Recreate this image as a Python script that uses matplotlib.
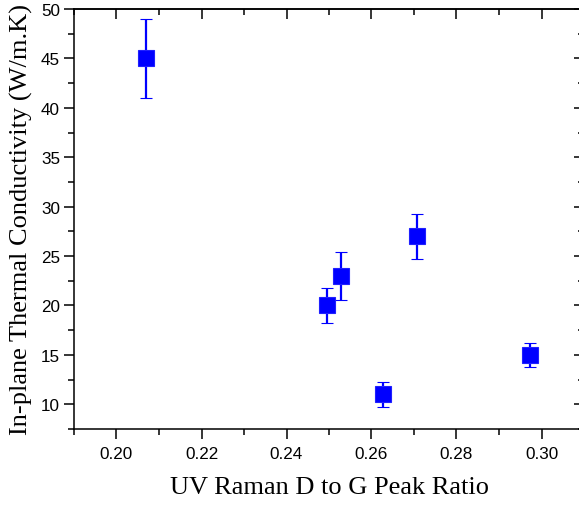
import numpy as np
import matplotlib
matplotlib.use('Agg')
import matplotlib.pyplot as plt
from matplotlib.ticker import MultipleLocator

# D/G ratio vs in-plane thermal conductivity, with error bars
dg_ratio = [0.207, 0.2495, 0.2528, 0.2628, 0.2706, 0.2972]
conductivity = [45, 20, 23, 11, 27, 15]
conductivity_err = [4.0, 1.8, 2.4, 1.3, 2.3, 1.2]

fig = plt.figure(figsize=(5.79, 5.06), dpi=100)
ax = fig.add_axes([74 / 579, 1 - 430 / 506, 510 / 579, 420 / 506])

ax.errorbar(dg_ratio, conductivity, yerr=conductivity_err, fmt='s', color='#0000FF',
            markersize=11, markeredgecolor='#2020FF', markeredgewidth=0.8,
            ecolor='#0000FF', elinewidth=1.6, capsize=4.5, capthick=1.6, zorder=3)

ax.set_xlim(0.19, 0.31)
ax.set_ylim(7.5, 50)
ax.xaxis.set_major_locator(MultipleLocator(0.02))
ax.xaxis.set_minor_locator(MultipleLocator(0.01))
ax.yaxis.set_major_locator(MultipleLocator(5))
ax.yaxis.set_minor_locator(MultipleLocator(2.5))
ax.xaxis.set_major_formatter(plt.FormatStrFormatter('%.2f'))

for s in ax.spines.values():
    s.set_linewidth(1.1)

tick_font = 'Liberation Sans'
ax.tick_params(which='major', direction='out', length=7, width=1.1, labelsize=12.3)
ax.tick_params(which='minor', direction='out', length=4, width=1.1)
for lbl in ax.get_xticklabels() + ax.get_yticklabels():
    lbl.set_fontfamily(tick_font)
ax.tick_params(axis='x', pad=5)
ax.tick_params(axis='y', pad=3)

# inward ticks on the top and right, without labels
top = ax.secondary_xaxis('top')
top.xaxis.set_major_locator(MultipleLocator(0.02))
top.xaxis.set_minor_locator(MultipleLocator(0.01))
top.tick_params(which='major', direction='in', length=7, width=1.1, labeltop=False)
top.tick_params(which='minor', direction='in', length=4, width=1.1)
top.spines['top'].set_linewidth(1.1)

right = ax.secondary_yaxis('right')
right.yaxis.set_major_locator(MultipleLocator(5))
right.yaxis.set_minor_locator(MultipleLocator(2.5))
right.tick_params(which='major', direction='in', length=7, width=1.1, labelright=False)
right.tick_params(which='minor', direction='in', length=4, width=1.1)
right.spines['right'].set_linewidth(1.1)

label_font = {'family': 'Liberation Serif', 'size': 19}
ax.set_xlabel('UV Raman D to G Peak Ratio', fontdict=label_font, labelpad=11)
ax.set_ylabel('In-plane Thermal Conductivity (W/m.K)', fontdict=label_font, labelpad=6)

fig.savefig('out.png', dpi=100)
